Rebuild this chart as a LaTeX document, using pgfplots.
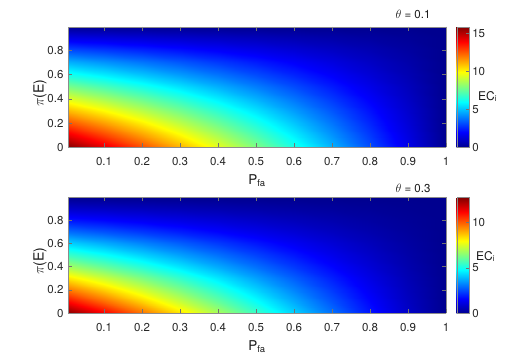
\documentclass[border=0pt]{standalone}
\usepackage{fontspec}
\setmainfont{TeX Gyre Heros}
\usepackage{pgfplots}
\pgfplotsset{compat=1.18}

\pgfplotsset{
  heat/.style={
    view={0}{90},
    scale only axis,
    width=378pt,
    xmin=0.005, xmax=1, ymin=0, ymax=0.995,
    xtick={0.1,0.2,0.3,0.4,0.5,0.6,0.7,0.8,0.9,1},
    ytick={0,0.2,0.4,0.6,0.8},
    ztick=\empty,
    xtick pos=both, ytick pos=both,
    tick align=inside,
    major tick length=4pt,
    axis line style={black!45},
    every tick/.style={black!55},
    tick label style={font=\fontsize{11.5}{13}\selectfont, text=black!85},
    xticklabel style={yshift=-7pt},
    yticklabel style={xshift=-1pt},
    /pgf/number format/assume math mode=true,
    axis on top,
    colormap={matjet}{rgb255(0cm)=(0,0,143) rgb255(1cm)=(0,0,255)
      rgb255(3cm)=(0,255,255) rgb255(5cm)=(255,255,0)
      rgb255(7cm)=(255,0,0) rgb255(8cm)=(128,0,0)},
    colorbar,
    colorbar style={
      at={(parent axis.north east)}, anchor=north west, xshift=2.2pt,
      width=12pt,
      tick align=inside,
      major tick length=3pt,
      ytick pos=right,
      axis line style={black!45},
      every tick/.style={black!55},
      tick label style={font=\fontsize{11.5}{13}\selectfont, text=black!85},
      /pgf/number format/assume math mode=true,
    },
  },
}

\begin{document}
\begin{tikzpicture}
\useasboundingbox (0,0) rectangle (526pt,360pt);

% theta = 0.1
\begin{axis}[heat, at={(68pt,212.7pt)}, anchor=south west, height=120.6pt,
  point meta min=0, point meta max=15.9,
  colorbar style={ytick={0,5,10,15}}]
\addplot3[surf, shader=interp, mesh/cols=11] table[row sep=\\] {
0 0 15.90\\ 0.1 0 14.31\\ 0.2 0 12.72\\ 0.3 0 11.13\\ 0.4 0 9.54\\ 0.5 0 7.95\\ 0.6 0 6.36\\ 0.7 0 4.77\\ 0.8 0 3.18\\ 0.9 0 1.59\\ 1 0 0\\
0 0.1 14.31\\ 0.1 0.1 12.88\\ 0.2 0.1 11.45\\ 0.3 0.1 10.02\\ 0.4 0.1 8.59\\ 0.5 0.1 7.16\\ 0.6 0.1 5.72\\ 0.7 0.1 4.29\\ 0.8 0.1 2.86\\ 0.9 0.1 1.43\\ 1 0.1 0\\
0 0.2 12.72\\ 0.1 0.2 11.45\\ 0.2 0.2 10.18\\ 0.3 0.2 8.90\\ 0.4 0.2 7.63\\ 0.5 0.2 6.36\\ 0.6 0.2 5.09\\ 0.7 0.2 3.82\\ 0.8 0.2 2.54\\ 0.9 0.2 1.27\\ 1 0.2 0\\
0 0.3 11.13\\ 0.1 0.3 10.02\\ 0.2 0.3 8.90\\ 0.3 0.3 7.79\\ 0.4 0.3 6.68\\ 0.5 0.3 5.57\\ 0.6 0.3 4.45\\ 0.7 0.3 3.34\\ 0.8 0.3 2.23\\ 0.9 0.3 1.11\\ 1 0.3 0\\
0 0.4 9.54\\ 0.1 0.4 8.59\\ 0.2 0.4 7.63\\ 0.3 0.4 6.68\\ 0.4 0.4 5.72\\ 0.5 0.4 4.77\\ 0.6 0.4 3.82\\ 0.7 0.4 2.86\\ 0.8 0.4 1.91\\ 0.9 0.4 0.95\\ 1 0.4 0\\
0 0.5 7.95\\ 0.1 0.5 7.16\\ 0.2 0.5 6.36\\ 0.3 0.5 5.57\\ 0.4 0.5 4.77\\ 0.5 0.5 3.98\\ 0.6 0.5 3.18\\ 0.7 0.5 2.39\\ 0.8 0.5 1.59\\ 0.9 0.5 0.80\\ 1 0.5 0\\
0 0.6 6.36\\ 0.1 0.6 5.72\\ 0.2 0.6 5.09\\ 0.3 0.6 4.45\\ 0.4 0.6 3.82\\ 0.5 0.6 3.18\\ 0.6 0.6 2.54\\ 0.7 0.6 1.91\\ 0.8 0.6 1.27\\ 0.9 0.6 0.64\\ 1 0.6 0\\
0 0.7 4.77\\ 0.1 0.7 4.29\\ 0.2 0.7 3.82\\ 0.3 0.7 3.34\\ 0.4 0.7 2.86\\ 0.5 0.7 2.39\\ 0.6 0.7 1.91\\ 0.7 0.7 1.43\\ 0.8 0.7 0.95\\ 0.9 0.7 0.48\\ 1 0.7 0\\
0 0.8 3.18\\ 0.1 0.8 2.86\\ 0.2 0.8 2.54\\ 0.3 0.8 2.23\\ 0.4 0.8 1.91\\ 0.5 0.8 1.59\\ 0.6 0.8 1.27\\ 0.7 0.8 0.95\\ 0.8 0.8 0.64\\ 0.9 0.8 0.32\\ 1 0.8 0\\
0 0.9 1.59\\ 0.1 0.9 1.43\\ 0.2 0.9 1.27\\ 0.3 0.9 1.11\\ 0.4 0.9 0.95\\ 0.5 0.9 0.80\\ 0.6 0.9 0.64\\ 0.7 0.9 0.48\\ 0.8 0.9 0.32\\ 0.9 0.9 0.16\\ 1 0.9 0\\
0 1 0\\ 0.1 1 0\\ 0.2 1 0\\ 0.3 1 0\\ 0.4 1 0\\ 0.5 1 0\\ 0.6 1 0\\ 0.7 1 0\\ 0.8 1 0\\ 0.9 1 0\\ 1 1 0\\
};
\end{axis}

% theta = 0.3
\begin{axis}[heat, at={(68pt,46.7pt)}, anchor=south west, height=116pt,
  point meta min=0, point meta max=12.8,
  colorbar style={ytick={0,5,10}}]
\addplot3[surf, shader=interp, mesh/cols=11] table[row sep=\\] {
0 0 12.80\\ 0.1 0 11.28\\ 0.2 0 9.79\\ 0.3 0 8.34\\ 0.4 0 6.93\\ 0.5 0 5.57\\ 0.6 0 4.26\\ 0.7 0 3.02\\ 0.8 0 1.86\\ 0.9 0 0.81\\ 1 0 0\\
0 0.1 11.28\\ 0.1 0.1 9.94\\ 0.2 0.1 8.63\\ 0.3 0.1 7.35\\ 0.4 0.1 6.11\\ 0.5 0.1 4.91\\ 0.6 0.1 3.76\\ 0.7 0.1 2.66\\ 0.8 0.1 1.64\\ 0.9 0.1 0.71\\ 1 0.1 0\\
0 0.2 9.79\\ 0.1 0.2 8.63\\ 0.2 0.2 7.49\\ 0.3 0.2 6.38\\ 0.4 0.2 5.31\\ 0.5 0.2 4.26\\ 0.6 0.2 3.26\\ 0.7 0.2 2.31\\ 0.8 0.2 1.42\\ 0.9 0.2 0.62\\ 1 0.2 0\\
0 0.3 8.34\\ 0.1 0.3 7.35\\ 0.2 0.3 6.38\\ 0.3 0.3 5.44\\ 0.4 0.3 4.52\\ 0.5 0.3 3.63\\ 0.6 0.3 2.78\\ 0.7 0.3 1.97\\ 0.8 0.3 1.21\\ 0.9 0.3 0.53\\ 1 0.3 0\\
0 0.4 6.93\\ 0.1 0.4 6.11\\ 0.2 0.4 5.31\\ 0.3 0.4 4.52\\ 0.4 0.4 3.76\\ 0.5 0.4 3.02\\ 0.6 0.4 2.31\\ 0.7 0.4 1.64\\ 0.8 0.4 1.01\\ 0.9 0.4 0.44\\ 1 0.4 0\\
0 0.5 5.57\\ 0.1 0.5 4.91\\ 0.2 0.5 4.26\\ 0.3 0.5 3.63\\ 0.4 0.5 3.02\\ 0.5 0.5 2.43\\ 0.6 0.5 1.86\\ 0.7 0.5 1.31\\ 0.8 0.5 0.81\\ 0.9 0.5 0.35\\ 1 0.5 0\\
0 0.6 4.26\\ 0.1 0.6 3.76\\ 0.2 0.6 3.26\\ 0.3 0.6 2.78\\ 0.4 0.6 2.31\\ 0.5 0.6 1.86\\ 0.6 0.6 1.42\\ 0.7 0.6 1.01\\ 0.8 0.6 0.62\\ 0.9 0.6 0.27\\ 1 0.6 0\\
0 0.7 3.02\\ 0.1 0.7 2.66\\ 0.2 0.7 2.31\\ 0.3 0.7 1.97\\ 0.4 0.7 1.64\\ 0.5 0.7 1.31\\ 0.6 0.7 1.01\\ 0.7 0.7 0.71\\ 0.8 0.7 0.44\\ 0.9 0.7 0.19\\ 1 0.7 0\\
0 0.8 1.86\\ 0.1 0.8 1.64\\ 0.2 0.8 1.42\\ 0.3 0.8 1.21\\ 0.4 0.8 1.01\\ 0.5 0.8 0.81\\ 0.6 0.8 0.62\\ 0.7 0.8 0.44\\ 0.8 0.8 0.27\\ 0.9 0.8 0.12\\ 1 0.8 0\\
0 0.9 0.81\\ 0.1 0.9 0.71\\ 0.2 0.9 0.62\\ 0.3 0.9 0.53\\ 0.4 0.9 0.44\\ 0.5 0.9 0.35\\ 0.6 0.9 0.27\\ 0.7 0.9 0.19\\ 0.8 0.9 0.12\\ 0.9 0.9 0.05\\ 1 0.9 0\\
0 1 0\\ 0.1 1 0\\ 0.2 1 0\\ 0.3 1 0\\ 0.4 1 0\\ 0.5 1 0\\ 0.6 1 0\\ 0.7 1 0\\ 0.8 1 0\\ 0.9 1 0\\ 1 1 0\\
};
\end{axis}

% labels
\begin{scope}[text=black!90]
\node[anchor=base, font=\fontsize{11.5}{13}\selectfont] at (413pt,342pt) {$\theta$ = 0.1};
\node[anchor=base, font=\fontsize{11.5}{13}\selectfont] at (413pt,168pt) {$\theta$ = 0.3};
\node[anchor=base, font=\fontsize{13.5}{15}\selectfont] at (257pt,175.5pt) {P\textsubscript{fa}};
\node[anchor=base, font=\fontsize{13.5}{15}\selectfont] at (257pt,10pt) {P\textsubscript{fa}};
\node[rotate=90, font=\fontsize{14}{16}\selectfont] at (40pt,267pt) {$\pi$(E)};
\node[rotate=90, font=\fontsize{14}{16}\selectfont] at (40pt,99pt) {$\pi$(E)};
\node[anchor=base west, inner sep=0pt, font=\fontsize{12}{14}\selectfont] at (478pt,260pt) {EC\textsubscript{i}};
\node[anchor=base west, inner sep=0pt, font=\fontsize{12}{14}\selectfont] at (476pt,100pt) {EC\textsubscript{i}};
\end{scope}
\end{tikzpicture}
\end{document}
